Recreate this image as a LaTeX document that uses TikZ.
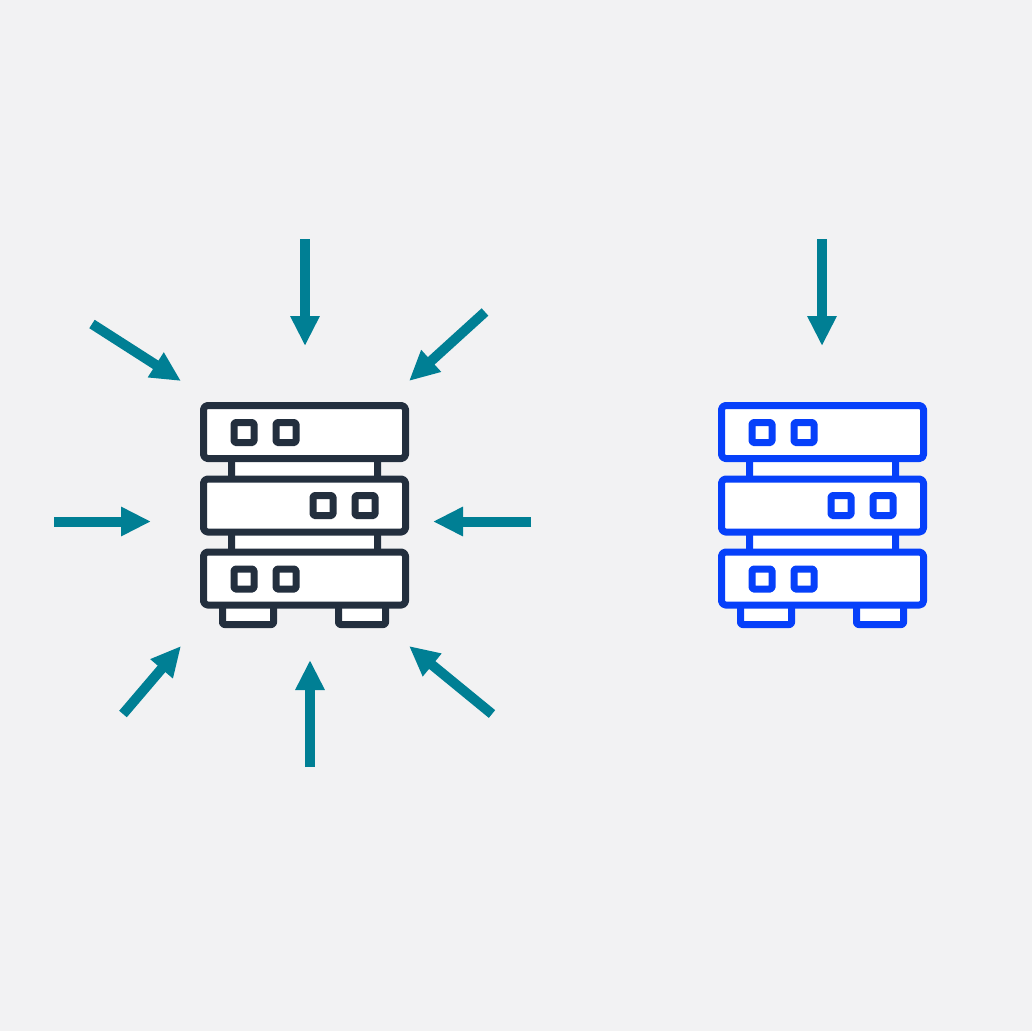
\documentclass[tikz,border=0pt]{standalone}
\usetikzlibrary{arrows.meta}
\definecolor{bgc}{HTML}{F2F2F3}
\definecolor{tealc}{HTML}{007F94}
\definecolor{darkc}{HTML}{232F3E}
\definecolor{bluec}{HTML}{0640FA}
\tikzset{
  flow/.style={draw=tealc,line width=10pt,-{Triangle[length=30pt,width=27.5pt]}},
  rackline/.style={line width=7pt,rounded corners=4pt,line join=round,fill=white},
  rackbox/.pic={
    % connectors and feet behind the shelves
    \draw[rackline] (231.5,450) rectangle (377.5,490);
    \draw[rackline] (231.5,523) rectangle (377.5,563);
    \draw[rackline,rounded corners=2pt] (222.5,596) -- (222.5,624.5) -- (273.5,624.5) -- (273.5,596);
    \draw[rackline,rounded corners=2pt] (338.5,596) -- (338.5,624.5) -- (385.5,624.5) -- (385.5,596);
    % shelves
    \draw[rackline] (203.5,405.5) rectangle (405.5,458.5);
    \draw[rackline] (203.5,479) rectangle (405.5,532);
    \draw[rackline] (203.5,552) rectangle (405.5,605);
    % lights
    \draw[rackline,rounded corners=1.5pt] (234,422.5) rectangle (254,442.5);
    \draw[rackline,rounded corners=1.5pt] (276,422.5) rectangle (296,442.5);
    \draw[rackline,rounded corners=1.5pt] (313,495.5) rectangle (333,515.5);
    \draw[rackline,rounded corners=1.5pt] (355,495.5) rectangle (375,515.5);
    \draw[rackline,rounded corners=1.5pt] (234,569) rectangle (254,589);
    \draw[rackline,rounded corners=1.5pt] (276,569) rectangle (296,589);
  }
}
\begin{document}
\begin{tikzpicture}[x=1pt,y=-1pt]
\useasboundingbox (0,0) rectangle (1032,1031);
\fill[bgc] (0,0) rectangle (1032,1031);
\pic[draw=darkc] at (0,0) {rackbox};
\pic[draw=bluec] at (518,0) {rackbox};
\coordinate (t1) at (305,239);   \coordinate (h1) at (305,346);
\coordinate (t2) at (92,324);    \coordinate (h2) at (181,381);
\coordinate (t3) at (485,312);   \coordinate (h3) at (409,381);
\coordinate (t4) at (54,521.5);  \coordinate (h4) at (151,521.5);
\coordinate (t5) at (531,521.5); \coordinate (h5) at (433,521.5);
\coordinate (t6) at (123,714);   \coordinate (h6) at (181,646);
\coordinate (t7) at (310,767);   \coordinate (h7) at (310,660);
\coordinate (t8) at (492,714);   \coordinate (h8) at (409,646);
\coordinate (t9) at (822,239);   \coordinate (h9) at (822,346);
\foreach \i in {1,...,9} \draw[flow] (t\i) -- (h\i);
\end{tikzpicture}
\end{document}
